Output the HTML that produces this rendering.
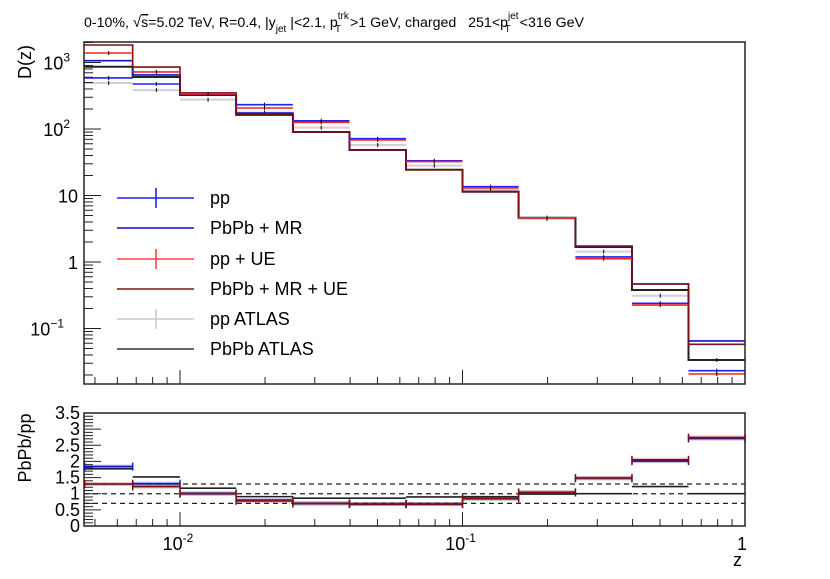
<!DOCTYPE html>
<html><head><meta charset="utf-8"><style>
html,body{margin:0;padding:0;background:#fff}
svg{display:block;font-family:"Liberation Sans",sans-serif}
</style></head><body>
<svg id="c" width="830" height="579" viewBox="0 0 830 579">
<text x="84" y="27" font-size="14.2" xml:space="preserve">0-10%, <tspan font-size="15">√</tspan><tspan text-decoration="overline">s</tspan>=5.02 TeV, R=0.4, |y<tspan font-size="10" dy="5">jet</tspan><tspan dy="-5"> |&lt;2.1, p</tspan><tspan font-size="10" dx="0" dy="-8">trk</tspan><tspan font-size="10" dx="-14" dy="13">T</tspan><tspan dx="9" dy="-5">&gt;1 GeV, charged   251&lt;p</tspan><tspan font-size="10" dx="0" dy="-8">jet</tspan><tspan font-size="10" dx="-14" dy="13">T</tspan><tspan dx="9" dy="-5">&lt;316 GeV</tspan></text>
<text transform="translate(31,62) rotate(-90)" text-anchor="middle" font-size="18">D(z)</text>
<text transform="translate(31,448) rotate(-90)" text-anchor="middle" font-size="18">PbPb/pp</text>
<text x="733" y="566" font-size="18">z</text>
<g id="g"></g>
</svg>
<script>
const edges=[0.0046,0.0068,0.01,0.0158,0.0251,0.0398,0.0631,0.1,0.158,0.251,0.398,0.631,1.0];
const ppVals=[585,475,336,232,133,71.4,33.3,13.6,4.63,1.19,0.239,0.0232];
const mrVals=[1064,649,336,174,90.2,48.3,24.4,11.4,4.63,1.68,0.467,0.0649];
const ppUeVals=[1390,720,336,207,126,68.4,32.4,13.0,4.63,1.12,0.225,0.0207];
const mrUeVals=[1833,855,348,168,90.2,48.3,24.4,11.4,4.63,1.74,0.467,0.0578];
const ppAtlasVals=[492,385,276,176,105,57.4,28.1,12.1,4.43,1.43,0.311,0.0336];
const pbAtlasVals=[865,605,325,163,90.2,48.3,24.4,11.4,4.63,1.68,0.379,0.0336];
const ratioMr=[1.84,1.31,1.01,0.80,0.70,0.68,0.68,0.85,1.04,1.48,2.01,2.71];
const ratioMrUe=[1.30,1.22,1.0,0.78,0.70,0.68,0.68,0.85,1.04,1.48,2.05,2.74];
const ratioAtlas=[1.77,1.52,1.17,0.91,0.86,0.86,0.9,0.91,0.99,1.0,1.22,1.0];
const dashLevels=[0.7,1.0,1.3];
const yTickLabels=["0","0.5","1","1.5","2","2.5","3","3.5"];

const NS="http://www.w3.org/2000/svg";
const g=document.getElementById('g');
const X0=84,X1=745,T0=42,T1=384,B0=413,B1=526;
const xs=z=>180+(Math.log10(z)+2)*282.5;
const ys=v=>62.5-(Math.log10(v)-3)*66.5;
const yr=r=>B1-r*(B1-B0)/3.5;
function el(t,a,p){const e=document.createElementNS(NS,t);for(const k in a)e.setAttribute(k,a[k]);(p||g).appendChild(e);return e;}
function line(x1,y1,x2,y2,c,w,extra){const e=el('line',Object.assign({x1,y1,x2,y2,stroke:c,'stroke-width':w},extra||{}));return e;}

function segs(vals,c,w,name){
  vals.forEach((v,i)=>{
    const a=xs(edges[i]),b=xs(edges[i+1]),y=ys(v);
    const e=line(a,y,b,y,c,w);
    
    
    const m=(a+b)/2;
    const t=line(m,y-2,m,y+2,'#000',1);
    
    
  });
}
function steps(vals,c,w,name){
  let d='';
  vals.forEach((v,i)=>{const a=xs(edges[i]),b=xs(edges[i+1]),y=ys(v);d+=(i?'L':'M')+a+' '+y+'L'+b+' '+y;});
  const p=el('path',{d,fill:'none',stroke:c,'stroke-width':w});
  
  
}
segs(ppAtlasVals,'#d0d0d0',2,'pp-atlas');
steps(pbAtlasVals,'#222',2,'pbpb-atlas');
steps(mrVals,'#1010c0',1.6,'pbpb-mr');
steps(mrUeVals,'#7a1010',1.6,'pbpb-mr-ue');
segs(ppVals,'#2020ff',1.6,'pp');
segs(ppUeVals,'#ff2020',1.6,'pp-ue');

[[T0,T1,'top-panel-frame'],[B0,B1,'ratio-panel-frame']].forEach(([a,b,n])=>{
  const r=el('rect',{x:X0,y:a,width:X1-X0,height:b-a,fill:'none',stroke:'#222','stroke-width':1.5});
  
});
[T1,B1].forEach(yb=>{
  for(let d=-3;d<=0;d++)for(let k=1;k<=9;k++){
    const z=k*Math.pow(10,d);const x=xs(z);if(x<X0-0.5||x>X1+0.5)continue;
    line(x,yb,x,yb-(k==1?14:7),'#222',1);
  }
});
[[-2,180],[-1,462.6]].forEach(([p,x])=>{
  const t=el('text',{x:x-2,y:550,'font-size':18,'text-anchor':'middle'});
  t.innerHTML='10<tspan font-size="12" dy="-8">'+p+'</tspan>';
  
});
{const t=el('text',{x:742,y:550,'font-size':18,'text-anchor':'middle'});t.textContent='1';
}
for(let d=-2;d<=3;d++)for(let k=1;k<=9;k++){
  const v=k*Math.pow(10,d);const y=ys(v);if(y<T0||y>T1)continue;
  line(X0,y,X0+(k==1?17:9),y,'#222',1);
}
[[3,'10','3'],[2,'10','2'],[1,'10',''],[0,'1',''],[-1,'10','−1']].forEach(([p,b,s])=>{
  const t=el('text',{x:s?(s.length>1?64:70):78,y:ys(Math.pow(10,p))+7,'font-size':18,'text-anchor':'end'});
  t.innerHTML=b+(s?'<tspan font-size="12" dy="-8">'+s+'</tspan>':'');
  
});
for(let i=0;i<=35;i++){const r=i*0.1;line(X0,yr(r),X0+(i%5==0?17:9),yr(r),'#222',1);}
yTickLabels.forEach((s,i)=>{
  const t=el('text',{x:80,y:yr(i*0.5)+6,'font-size':18,'text-anchor':'end'});t.textContent=s;
  
});
dashLevels.forEach(r=>{
  const e=line(X0,yr(r),X1,yr(r),'#222',1.2,{'stroke-dasharray':'5,4'});
  
});
function ratio(vals,c,name,caps){
  vals.forEach((v,i)=>{
    const a=xs(edges[i]),b=xs(edges[i+1]),y=yr(v);
    if(caps){el('rect',{x:a,y:y-2,width:b-a,height:4,fill:c,opacity:0.25});}
    const e=line(a,y,b,y,c,1.6);
    
    
    if(caps){line(a,y-4,a,y+4,c,1.4);line(b,y-4,b,y+4,c,1.4);}
  });
}
ratio(ratioAtlas,'#222','ratio-atlas',false);
ratio(ratioMr,'#1010c0','ratio-mr',true);
ratio(ratioMrUe,'#7a1010','ratio-mr-ue',true);

const legNames=["pp","PbPb + MR","pp + UE","PbPb + MR + UE","pp ATLAS","PbPb ATLAS"];
const legColors=['#2020ff','#1010c0','#ff4040','#7a1010','#cccccc','#333'];
const legBars=[true,false,true,false,true,false];
const legY=[198,228,259,289,319,349];
legNames.forEach((n,i)=>{
  const gg=el('g',{});
  
  
  el('line',{x1:117,y1:legY[i],x2:194,y2:legY[i],stroke:legColors[i],'stroke-width':1.6},gg);
  if(legBars[i])el('line',{x1:156,y1:legY[i]-10,x2:156,y2:legY[i]+10,stroke:legColors[i],'stroke-width':1.6},gg);
  const t=el('text',{x:210,y:legY[i]+6,'font-size':18},gg);t.textContent=n;
});
</script>
</body></html>
